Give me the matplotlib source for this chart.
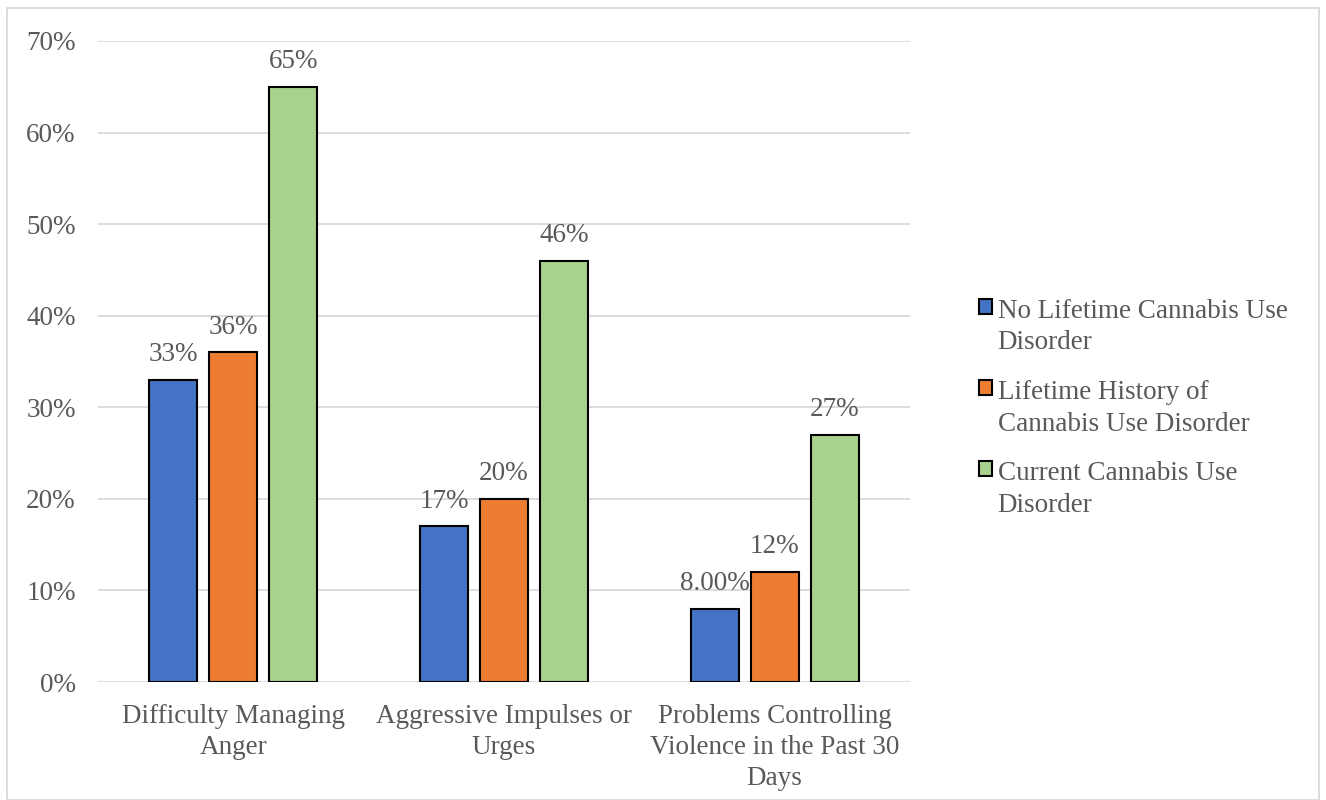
import matplotlib
matplotlib.use("Agg")
import matplotlib.pyplot as plt
import numpy as np
from matplotlib.patches import Rectangle
from matplotlib.offsetbox import HPacker

plt.rcParams['font.family'] = ['Liberation Serif', 'DejaVu Serif']

categories = ["Difficulty Managing\nAnger", "Aggressive Impulses or\nUrges",
              "Problems Controlling\nViolence in the Past 30\nDays"]
series_names = ["No Lifetime Cannabis Use\nDisorder",
                "Lifetime History of\nCannabis Use Disorder",
                "Current Cannabis Use\nDisorder"]
no_lifetime = [33, 17, 8]
lifetime_history = [36, 20, 12]
current = [65, 46, 27]
value_labels = [["33%", "17%", "8.00%"], ["36%", "20%", "12%"], ["65%", "46%", "27%"]]
yticks = [0, 10, 20, 30, 40, 50, 60, 70]
colors = ["#4472C4", "#ED7D31", "#A9D18E"]

W, H = 1326, 800
fig = plt.figure(figsize=(W / 100, H / 100), dpi=100)
ax = fig.add_axes([98 / W, 1 - 682 / H, (910 - 98) / W, (682 - 41) / H])

x = np.arange(len(categories))
width = 0.177
step = 0.222
text_color = "#595959"
fs = 19.5
for i, (vals, name) in enumerate(zip([no_lifetime, lifetime_history, current], series_names)):
    pos = x + (i - 1) * step
    ax.bar(pos, vals, width, color=colors[i], edgecolor="black", linewidth=1.5,
           label=name, zorder=3)
    for xp, v, lab in zip(pos, vals, value_labels[i]):
        ax.text(xp, v + 1.4, lab, ha="center", va="bottom", fontsize=fs, color=text_color)

ax.set_xlim(-0.5, 2.5)
ax.set_ylim(0, 70)
ax.set_yticks(yticks)
ax.set_yticklabels([f"{t}%" for t in yticks], fontsize=fs, color=text_color)
ax.set_xticks(x)
ax.set_xticklabels(categories, fontsize=fs, color=text_color)
for t in ax.get_xticklabels():
    t.set_linespacing(1.3)
ax.tick_params(axis="both", length=0)
ax.tick_params(axis="y", pad=16)
ax.tick_params(axis="x", pad=16)
ax.grid(axis="y", color="#D9D9D9", linewidth=1.3, zorder=0)
for s in ax.spines.values():
    s.set_visible(False)
ax.set_facecolor("none")

leg = fig.legend(loc="upper left", bbox_to_anchor=(965 / W, 1 - 285 / H),
                 frameon=False, fontsize=fs, labelcolor=text_color,
                 handlelength=0.5, handleheight=0.5, handletextpad=0.2,
                 labelspacing=0.9, borderpad=0)
for t in leg.get_texts():
    t.set_linespacing(1.36)
# align the square markers with the first line of each label
def _walk(box):
    for c in box.get_children():
        if isinstance(c, HPacker):
            c.align = "top"
        if hasattr(c, "get_children"):
            _walk(c)
_walk(leg._legend_box)

fig.patches.append(Rectangle((7 / W, 0), (1319 - 7) / W, 1 - 8 / H, transform=fig.transFigure,
                             fill=False, edgecolor="#D9D9D9", linewidth=1.3))

fig.savefig("out.png", dpi=100)
